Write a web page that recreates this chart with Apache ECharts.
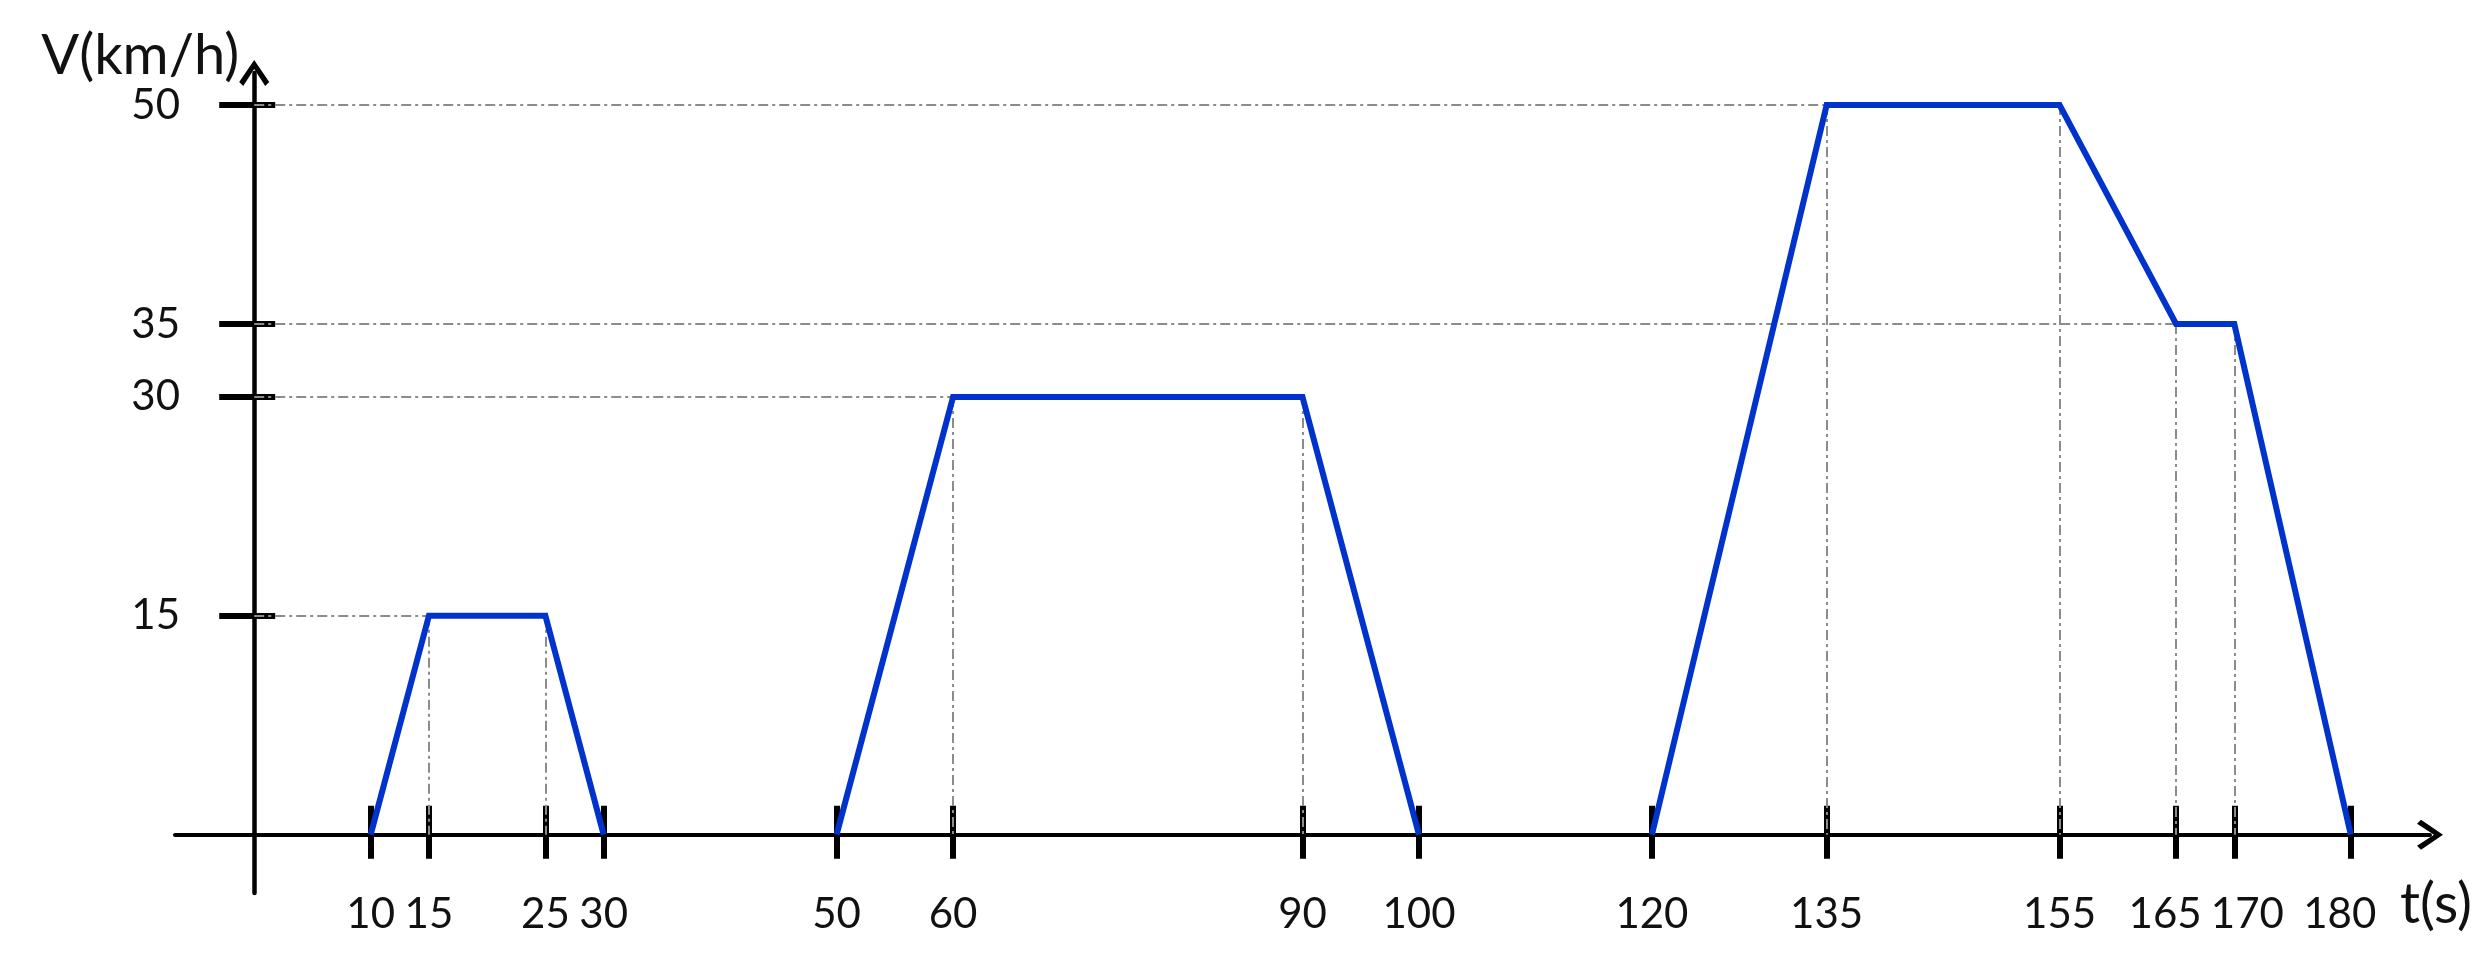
<!DOCTYPE html>
<html>
<head>
<meta charset="utf-8">
<script src="https://cdn.jsdelivr.net/npm/echarts@6/dist/echarts.min.js"></script>
<style>
html,body{margin:0;padding:0;background:#fff;}
#chart{width:2492px;height:971px;}
</style>
</head>
<body>
<div id="chart"></div>
<script>
// ---- data ----
const xTicks = [10, 15, 25, 30, 50, 60, 90, 100, 120, 135, 155, 165, 170, 180];
const yTicks = [15, 30, 35, 50];
const trip1Time  = [10, 15, 25, 30];
const trip1Speed = [0, 15, 15, 0];
const trip2Time  = [50, 60, 90, 100];
const trip2Speed = [0, 30, 30, 0];
const trip3Time  = [120, 135, 155, 165, 170, 180];
const trip3Speed = [0, 50, 50, 35, 35, 0];
const xName = 't(s)';
const yName = 'V(km/h)';

// ---- build options ----
const W = 2492, H = 971;
const FONT = 'Lato';
const BLUE = '#0033cc';
const chevron = 'path://M15,0 L30,22 L26,26 L15,9 L4,26 L0,22 Z';

const G = { left: 175, right: 62, top: 73, bottom: 78 };
const X_MIN = -6.8, X_MAX = 186.8, Y_MIN = -4, Y_MAX = 52.2;
// pixel offsets that put the companion axes (ticks on the other side) on the zero lines
const plotW = W - G.left - G.right, plotH = H - G.top - G.bottom;
const zeroYFromTop = plotH * Y_MAX / (Y_MAX - Y_MIN);
const zeroXFromRight = plotW * X_MAX / (X_MAX - X_MIN);

function pairs(ts, vs) { return ts.map((t, i) => [t, vs[i]]); }

function guides(ts, vs) {
  const out = [];
  ts.forEach((t, i) => {
    const v = vs[i];
    if (v > 0) {
      out.push([{ coord: [t, v] }, { coord: [t, 0] }]);
      if (i === 0 || vs[i - 1] !== v) {
        out.push([{ coord: [0, v] }, { coord: [t, v] }]);
      }
    }
  });
  return out;
}

const trips = [
  [trip1Time, trip1Speed],
  [trip2Time, trip2Speed],
  [trip3Time, trip3Speed]
];

const series = trips.map(([ts, vs], k) => ({
  type: 'line',
  name: 'trip' + (k + 1),
  data: pairs(ts, vs),
  symbol: 'none',
  z: 5,
  lineStyle: { color: BLUE, width: 6, join: 'miter' },
  silent: true,
  markLine: {
    silent: true,
    symbol: 'none',
    label: { show: false },
    z: 1,
    lineStyle: { color: '#8c8c8c', width: 2, type: [10, 4, 3, 4] },
    data: guides(ts, vs)
  }
}));

// closely spaced tick labels get nudged apart (as in the reference drawing)
function xLabel(v) {
  if (v === 165) return '{l|' + v + '}';
  if (v === 170) return '{r|' + v + '}';
  if (v === 180) return '{e|' + v + '}';
  return '{n|' + v + '}';
}
const labelText = { fontFamily: FONT, fontSize: 42, color: '#111' };
const tickStyle = { color: '#000', width: 6 };

const option = {
  backgroundColor: '#fff',
  animation: false,
  grid: { left: G.left, right: G.right, top: G.top, bottom: G.bottom,
          containLabel: false, outerBoundsMode: 'none' },
  xAxis: [
    {
      type: 'value', min: X_MIN, max: X_MAX, position: 'bottom',
      splitLine: { show: false },
      name: xName,
      nameLocation: 'end',
      nameGap: 0,
      nameTextStyle: {
        fontFamily: FONT, fontSize: 56, color: '#111',
        align: 'center', verticalAlign: 'top', padding: [42, 0, 0, 12]
      },
      axisLine: { onZero: true, symbol: ['none', chevron], symbolSize: [30, 26],
                  lineStyle: { color: '#000', width: 4 } },
      axisTick: { show: true, customValues: xTicks, length: 24, inside: false, lineStyle: tickStyle },
      axisLabel: {
        show: true, customValues: xTicks, margin: 0,
        formatter: xLabel,
        rich: {
          n: labelText,
          l: Object.assign({ padding: [0, 22, 0, 0] }, labelText),
          r: Object.assign({ padding: [0, 0, 0, 26] }, labelText),
          e: Object.assign({ padding: [0, 22, 0, 0] }, labelText)
        }
      }
    },
    {
      type: 'value', min: X_MIN, max: X_MAX, position: 'top',
      offset: -zeroYFromTop,
      splitLine: { show: false },
      axisLine: { show: false, onZero: false },
      axisTick: { show: true, customValues: xTicks, length: 29, inside: false, lineStyle: tickStyle },
      axisLabel: { show: false }
    }
  ],
  yAxis: [
    {
      type: 'value', min: Y_MIN, max: Y_MAX, position: 'left',
      splitLine: { show: false },
      name: yName,
      nameLocation: 'end',
      nameGap: 13,
      nameTextStyle: {
        fontFamily: FONT, fontSize: 56, color: '#111',
        align: 'right', verticalAlign: 'middle', padding: [0, 15, 0, 0]
      },
      axisLine: { onZero: true, symbol: ['none', chevron], symbolSize: [30, 26],
                  lineStyle: { color: '#000', width: 4.5 } },
      axisTick: { show: true, customValues: yTicks, length: 35, inside: false, lineStyle: tickStyle },
      axisLabel: { show: true, customValues: yTicks, margin: -5,
                   fontFamily: FONT, fontSize: 42, color: '#111' }
    },
    {
      type: 'value', min: Y_MIN, max: Y_MAX, position: 'right',
      offset: -zeroXFromRight,
      splitLine: { show: false },
      axisLine: { show: false, onZero: false },
      axisTick: { show: true, customValues: yTicks, length: 21, inside: false, lineStyle: tickStyle },
      axisLabel: { show: false }
    }
  ],
  series: series
};

const chart = echarts.init(document.getElementById('chart'), null, { renderer: 'canvas' });
chart.setOption(option);
</script>
</body>
</html>
